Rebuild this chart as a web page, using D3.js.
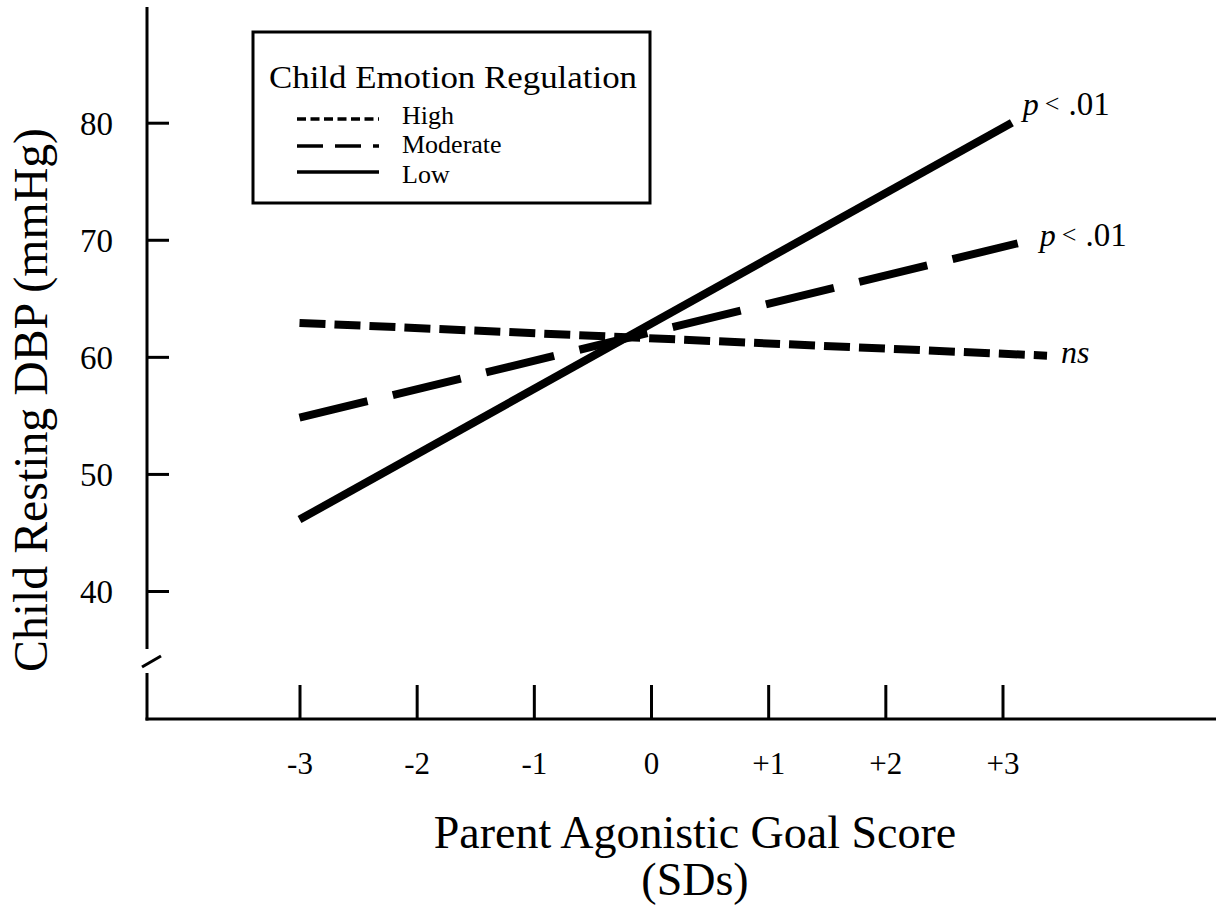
<!DOCTYPE html>
<html>
<head>
<meta charset="utf-8">
<script src="https://cdn.jsdelivr.net/npm/d3@7"></script>
<style>
  html, body { margin: 0; padding: 0; background: #fff; }
  svg { display: block; }
  text { font-family: "Liberation Serif", "Times New Roman", serif; fill: #000; }
</style>
</head>
<body>
<svg id="chart" width="1216" height="913"></svg>
<script>
// Simple-slopes of child resting DBP on parent agonistic goal score
const xTicks = [-3, -2, -1, 0, 1, 2, 3];
const xTickLabels = ["-3", "-2", "-1", "0", "+1", "+2", "+3"];
const yTicks = [40, 50, 60, 70, 80];
const yTickLabels = ["40", "50", "60", "70", "80"];

const seriesNames = ["High", "Moderate", "Low"];
const highX = [-3, 3.38];
const highY = [62.9, 60.1];
const moderateX = [-3, 3.13];
const moderateY = [54.8, 69.7];
const lowX = [-3, 3.08];
const lowY = [46.1, 80.0];
const pLabels = ["ns", "p < .01", "p < .01"];

const series = [
  { name: seriesNames[0], xs: highX, ys: highY, dash: "26,9", legendDash: "9,4.5", note: pLabels[0] },
  { name: seriesNames[1], xs: moderateX, ys: moderateY, dash: "70,26", legendDash: "26,12", note: pLabels[1] },
  { name: seriesNames[2], xs: lowX, ys: lowY, dash: null, legendDash: null, note: pLabels[2] }
];

const svg = d3.select("#chart");

const x = d3.scaleLinear().domain([-3, 3]).range([299.5, 1002.5]);
const y = d3.scaleLinear().domain([40, 80]).range([591, 122.7]);

const axisX = 147, axisY = 719;

// y axis with inward ticks
const yAxis = d3.axisLeft(y)
  .tickValues(yTicks)
  .tickFormat((d, i) => yTickLabels[i])
  .tickSizeInner(-22)
  .tickSizeOuter(0)
  .tickPadding(34);
const gy = svg.append("g").attr("transform", `translate(${axisX},0)`).call(yAxis);
gy.select(".domain").remove();
gy.selectAll(".tick line").attr("stroke", "#000").attr("stroke-width", 3);
gy.selectAll(".tick text")
  .attr("font-size", 33)
  .attr("font-family", "Liberation Serif, serif")
  .attr("fill", "#000")
  .attr("dy", "0.36em");

// x axis with upward ticks
const xAxis = d3.axisBottom(x)
  .tickValues(xTicks)
  .tickFormat((d, i) => xTickLabels[i])
  .tickSizeInner(-34)
  .tickSizeOuter(0)
  .tickPadding(0);
const gx = svg.append("g").attr("transform", `translate(0,${axisY})`).call(xAxis);
gx.select(".domain").remove();
gx.selectAll(".tick line").attr("stroke", "#000").attr("stroke-width", 3);
gx.selectAll(".tick text")
  .attr("font-size", 31)
  .attr("font-family", "Liberation Serif, serif")
  .attr("fill", "#000")
  .attr("y", 55)
  .attr("dy", 0);

// axis lines, with a break near the bottom of the y axis
const axisG = svg.append("g").attr("stroke", "#000").attr("stroke-width", 3).attr("fill", "none");
axisG.append("line").attr("x1", axisX).attr("x2", axisX).attr("y1", 7).attr("y2", 649);
axisG.append("line").attr("x1", axisX).attr("x2", axisX).attr("y1", 673).attr("y2", axisY + 1.5);
axisG.append("line").attr("x1", 142).attr("x2", 161).attr("y1", 667).attr("y2", 656);
axisG.append("line").attr("x1", axisX - 1.5).attr("x2", 1216).attr("y1", axisY).attr("y2", axisY);

// regression lines
const line = d3.line().x(d => x(d[0])).y(d => y(d[1]));
svg.append("g").selectAll("path")
  .data(series)
  .join("path")
  .attr("d", s => line(s.xs.map((v, i) => [v, s.ys[i]])))
  .attr("fill", "none")
  .attr("stroke", "#000")
  .attr("stroke-width", 8)
  .attr("stroke-dasharray", s => s.dash);

// significance notes at line ends
const noteOffsets = [[14, 7], [22, 3], [11, -8]];
const notes = svg.append("g").attr("font-size", 32);
series.forEach((s, i) => {
  const ex = x(s.xs[1]) + noteOffsets[i][0];
  const ey = y(s.ys[1]) + noteOffsets[i][1];
  const t = notes.append("text").attr("x", ex).attr("y", ey);
  if (s.note === "ns") {
    t.append("tspan").attr("font-style", "italic").text("ns");
  } else {
    t.append("tspan").attr("font-style", "italic").text("p");
    t.append("tspan").attr("font-size", 26).attr("dy", -3).attr("dx", 6).text("<");
    t.append("tspan").attr("font-size", 33).attr("dy", 3).attr("dx", 9).text(".01");
  }
});

// legend
const lg = svg.append("g");
lg.append("rect")
  .attr("x", 253).attr("y", 32).attr("width", 397).attr("height", 171)
  .attr("fill", "#fff").attr("stroke", "#000").attr("stroke-width", 3);
lg.append("text")
  .attr("x", 453).attr("y", 88)
  .attr("text-anchor", "middle")
  .attr("font-size", 32)
  .attr("textLength", 368)
  .attr("lengthAdjust", "spacingAndGlyphs")
  .text("Child Emotion Regulation");
const legendRows = [119, 146, 172];
const legendText = [124, 153, 183];
series.forEach((s, i) => {
  lg.append("line")
    .attr("x1", 297).attr("x2", 379)
    .attr("y1", legendRows[i]).attr("y2", legendRows[i])
    .attr("stroke", "#000").attr("stroke-width", 3.5)
    .attr("stroke-dasharray", s.legendDash);
  lg.append("text")
    .attr("x", 402).attr("y", legendText[i])
    .attr("font-size", 26)
    .text(s.name);
});

// axis titles
svg.append("text")
  .attr("transform", "translate(47,400) rotate(-90)")
  .attr("text-anchor", "middle")
  .attr("font-size", 48)
  .attr("textLength", 544)
  .attr("lengthAdjust", "spacingAndGlyphs")
  .text("Child Resting DBP (mmHg)");
svg.append("text")
  .attr("x", 695).attr("y", 848)
  .attr("text-anchor", "middle")
  .attr("font-size", 46)
  .text("Parent Agonistic Goal Score");
svg.append("text")
  .attr("x", 695).attr("y", 895)
  .attr("text-anchor", "middle")
  .attr("font-size", 46)
  .text("(SDs)");
</script>
</body>
</html>
